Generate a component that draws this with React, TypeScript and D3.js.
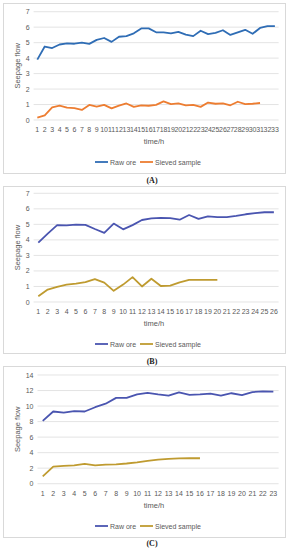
import React, { useEffect, useRef } from "react";
import * as d3 from "d3";

// panel A
const rawOreA = [3.9, 4.75, 4.65, 4.88, 4.95, 4.93, 5.0, 4.92, 5.18, 5.3, 5.05, 5.38, 5.42, 5.6, 5.92, 5.92, 5.67, 5.67, 5.6, 5.7, 5.52, 5.42, 5.77, 5.55, 5.63, 5.8, 5.5, 5.67, 5.83, 5.57, 5.95, 6.07, 6.07];
const sievedA = [0.15, 0.3, 0.82, 0.93, 0.8, 0.77, 0.65, 0.97, 0.87, 0.98, 0.75, 0.93, 1.07, 0.85, 0.95, 0.92, 0.98, 1.2, 1.03, 1.07, 0.95, 0.98, 0.85, 1.13, 1.05, 1.08, 0.95, 1.18, 1.03, 1.05, 1.1];

// panel B
const rawOreB = [3.82, 4.4, 4.95, 4.93, 4.98, 4.97, 4.7, 4.45, 5.05, 4.68, 4.95, 5.28, 5.38, 5.42, 5.4, 5.3, 5.6, 5.35, 5.52, 5.47, 5.47, 5.55, 5.65, 5.72, 5.78, 5.78];
const sievedB = [0.37, 0.8, 0.97, 1.12, 1.18, 1.28, 1.47, 1.25, 0.72, 1.12, 1.6, 1.0, 1.5, 1.03, 1.05, 1.27, 1.42, 1.43, 1.42, 1.42];

// panel C
const rawOreC = [8.1, 9.3, 9.15, 9.35, 9.3, 9.85, 10.3, 11.05, 11.05, 11.5, 11.7, 11.5, 11.35, 11.75, 11.45, 11.5, 11.6, 11.35, 11.65, 11.4, 11.8, 11.9, 11.85];
const sievedC = [0.95, 2.2, 2.3, 2.35, 2.55, 2.35, 2.45, 2.5, 2.6, 2.75, 2.95, 3.1, 3.2, 3.25, 3.3, 3.28];

const yTicksAB = [0, 1, 2, 3, 4, 5, 6, 7];
const yTicksC = [0, 2, 4, 6, 8, 10, 12, 14];
const seriesNames = ["Raw ore", "Sieved sample"];

const textColor = "#595959";
const font = "'Liberation Sans', Arial, sans-serif";

export default function App() {
  const ref = useRef(null);

  useEffect(() => {
    const svg = d3.select(ref.current);
    svg.selectAll("*").remove();

    const panel = (cfg) => {
      const g = svg.append("g");
      // frame
      g.append("rect")
        .attr("x", 3.5)
        .attr("y", cfg.boxTop + 0.5)
        .attr("width", 282)
        .attr("height", cfg.boxBottom - cfg.boxTop)
        .attr("fill", "none")
        .attr("stroke", "#d9d9d9");

      const n = cfg.raw.length;
      const cats = d3.range(1, n + 1);
      const x = d3.scalePoint().domain(cats).range([cfg.left, 278.6]).padding(0.5);
      const y = d3
        .scaleLinear()
        .domain([0, cfg.yTicks[cfg.yTicks.length - 1]])
        .range([cfg.y0, cfg.yTop]);

      // gridlines
      g.selectAll(".grid")
        .data(cfg.yTicks)
        .join("line")
        .attr("x1", cfg.left)
        .attr("x2", 278.6)
        .attr("y1", (d) => y(d))
        .attr("y2", (d) => y(d))
        .attr("stroke", "#d9d9d9")
        .attr("stroke-width", 0.7);

      // y labels
      g.selectAll(".yl")
        .data(cfg.yTicks)
        .join("text")
        .attr("x", cfg.left - 4)
        .attr("y", (d) => y(d) + 2.5)
        .attr("text-anchor", "end")
        .attr("font-size", 7)
        .attr("font-family", font)
        .attr("fill", textColor)
        .text((d) => d);

      // x labels
      g.selectAll(".xl")
        .data(cats)
        .join("text")
        .attr("x", (d) => x(d))
        .attr("y", cfg.y0 + 12)
        .attr("text-anchor", "middle")
        .attr("font-size", 7)
        .attr("font-family", font)
        .attr("fill", textColor)
        .text((d) => d);

      const line = d3
        .line()
        .x((d, i) => x(i + 1))
        .y((d) => y(d));

      g.append("path")
        .attr("d", line(cfg.sieved))
        .attr("fill", "none")
        .attr("stroke", cfg.colors[1])
        .attr("stroke-width", 1.8)
        .attr("stroke-linejoin", "round");
      g.append("path")
        .attr("d", line(cfg.raw))
        .attr("fill", "none")
        .attr("stroke", cfg.colors[0])
        .attr("stroke-width", 1.8)
        .attr("stroke-linejoin", "round");

      // axis titles
      g.append("text")
        .attr("transform", `translate(20,${(cfg.y0 + cfg.yTop) / 2}) rotate(-90)`)
        .attr("text-anchor", "middle")
        .attr("font-size", 7.5)
        .attr("font-family", font)
        .attr("fill", textColor)
        .text("Seepage flow");
      g.append("text")
        .attr("x", 154)
        .attr("y", cfg.y0 + 24)
        .attr("text-anchor", "middle")
        .attr("font-size", 7.5)
        .attr("font-family", font)
        .attr("fill", textColor)
        .text("time/h");

      // legend
      const lg = g.append("g").attr("transform", `translate(95,${cfg.legendY})`);
      const items = lg
        .selectAll("g")
        .data(seriesNames)
        .join("g")
        .attr("transform", (d, i) => `translate(${i * 45},0)`);
      items
        .append("line")
        .attr("x1", 0)
        .attr("x2", 13)
        .attr("stroke", (d, i) => cfg.colors[i])
        .attr("stroke-width", 1.8);
      items
        .append("text")
        .attr("x", 15)
        .attr("y", 2.5)
        .attr("font-size", 7)
        .attr("font-family", font)
        .attr("fill", textColor)
        .text((d) => d);

      // panel label
      g.append("text")
        .attr("x", 152)
        .attr("y", cfg.labelY)
        .attr("text-anchor", "middle")
        .attr("font-size", 8)
        .attr("font-weight", "bold")
        .attr("font-family", "'Liberation Serif', serif")
        .attr("fill", "#222")
        .text(cfg.label);
    };

    panel({
      raw: rawOreA,
      sieved: sievedA,
      yTicks: yTicksAB,
      colors: ["#2f6db5", "#ed7d31"],
      boxTop: 3,
      boxBottom: 173,
      left: 33.6,
      y0: 120,
      yTop: 11.7,
      legendY: 162,
      labelY: 183,
      label: "(A)",
    });
    panel({
      raw: rawOreB,
      sieved: sievedB,
      yTicks: yTicksAB,
      colors: ["#4a55b0", "#bf9b30"],
      boxTop: 186,
      boxBottom: 353,
      left: 33.6,
      y0: 302,
      yTop: 193.3,
      legendY: 344,
      labelY: 364,
      label: "(B)",
    });
    panel({
      raw: rawOreC,
      sieved: sievedC,
      yTicks: yTicksC,
      colors: ["#4a55b0", "#bf9b30"],
      boxTop: 366,
      boxBottom: 537,
      left: 37.5,
      y0: 483.7,
      yTop: 375,
      legendY: 526,
      labelY: 546,
      label: "(C)",
    });
  }, []);

  return (
    <svg
      ref={ref}
      width={291}
      height={550}
      style={{ position: "absolute", left: 0, top: 0, background: "white" }}
    />
  );
}
